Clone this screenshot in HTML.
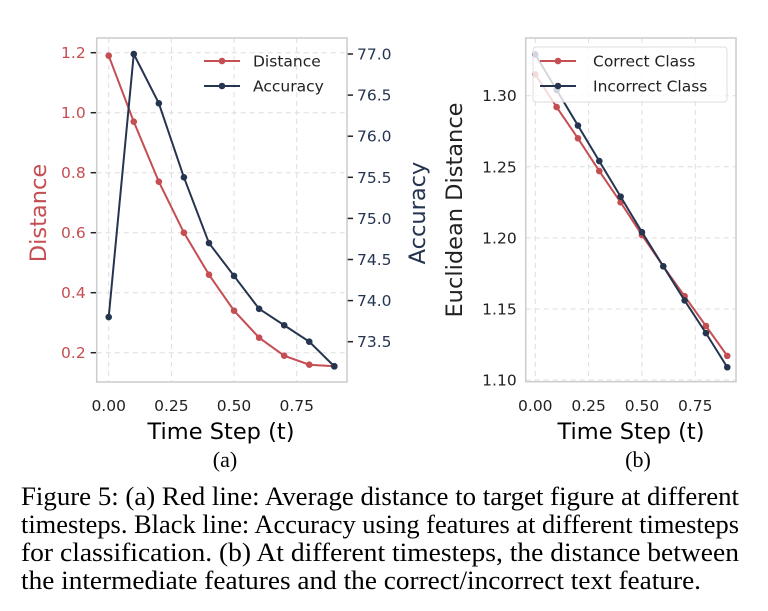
<!DOCTYPE html>
<html><head><meta charset="utf-8"><style>
html,body{margin:0;padding:0;background:#fff;}
svg{display:block;}
.tk{font-family:"DejaVu Sans","Liberation Sans",sans-serif;font-size:15.5px;}
.lg{font-family:"DejaVu Sans","Liberation Sans",sans-serif;font-size:15.5px;}
.lb{font-family:"DejaVu Sans","Liberation Sans",sans-serif;font-size:22.5px;}
.cap{font-family:"Liberation Serif",serif;font-size:26px;fill:#000;}
</style></head><body>
<svg id="fig" width="768" height="611" viewBox="0 0 768 611" xmlns="http://www.w3.org/2000/svg">
<g id="pa"></g>
<g id="pb"></g>
<text class="lb" x="221" y="439" text-anchor="middle">Time Step (t)</text>
<text class="lb" x="631" y="439" text-anchor="middle">Time Step (t)</text>
<text class="cap" x="225" y="467" text-anchor="middle" style="font-size:22px">(a)</text>
<text class="cap" x="638" y="467" text-anchor="middle" style="font-size:22px">(b)</text>
<g>
<text class="cap" x="21" y="505" textLength="718" lengthAdjust="spacingAndGlyphs">Figure 5: (a) Red line: Average distance to target figure at different</text>
<text class="cap" x="21" y="533" textLength="718" lengthAdjust="spacingAndGlyphs">timesteps. Black line: Accuracy using features at different timesteps</text>
<text class="cap" x="21" y="561" textLength="718" lengthAdjust="spacingAndGlyphs">for classification. (b) At different timesteps, the distance between</text>
<text class="cap" x="21" y="589" textLength="680" lengthAdjust="spacingAndGlyphs">the intermediate features and the correct/incorrect text feature.</text>
</g>
</svg>
<script>
const steps = [0,0.1,0.2,0.3,0.4,0.5,0.6,0.7,0.8,0.9];
const distance = [1.19,0.97,0.77,0.60,0.46,0.34,0.25,0.19,0.16,0.155];
const accuracy = [73.8,77.0,76.4,75.5,74.7,74.3,73.9,73.7,73.5,73.2];
const correctClass = [1.315,1.292,1.270,1.247,1.225,1.202,1.180,1.159,1.138,1.117];
const incorrectClass = [1.329,1.304,1.279,1.254,1.229,1.204,1.180,1.156,1.133,1.109];
const xTicks = [0,0.25,0.5,0.75];
const xTickLabels = ["0.00","0.25","0.50","0.75"];
const distTicks = [0.2,0.4,0.6,0.8,1.0,1.2];
const distTickLabels = ["0.2","0.4","0.6","0.8","1.0","1.2"];
const accTicks = [73.5,74.0,74.5,75.0,75.5,76.0,76.5,77.0];
const accTickLabels = ["73.5","74.0","74.5","75.0","75.5","76.0","76.5","77.0"];
const eucTicks = [1.10,1.15,1.20,1.25,1.30];
const eucTickLabels = ["1.10","1.15","1.20","1.25","1.30"];

const NS="http://www.w3.org/2000/svg";
const RED="#c44e52", NAVY="#253550";
function mk(parent,tag,attrs){const e=document.createElementNS(NS,tag);for(const k in attrs)e.setAttribute(k,attrs[k]);parent.appendChild(e);return e;}

const xA=v=>108.7+v*250.7;
const yD=v=>352.7-(v-0.2)*300;
const yAcc=v=>54+(77-v)*82.2;
const xB=v=>535.3+v*213.3;
const yE=v=>95.7+(1.30-v)*1421.7;

function frame(g,x0,y0,x1,y1){
  const r=mk(g,'rect',{x:x0,y:y0,width:x1-x0,height:y1-y0,fill:'none',stroke:'#cccccc','stroke-width':1.5});
  
  
}
function series(g,xs,ys,xf,yf,color,name){
  const pts=xs.map((x,i)=>xf(x)+','+yf(ys[i])).join(' ');
  const l=mk(g,'polyline',{points:pts,fill:'none',stroke:color,'stroke-width':2});
  
  
  xs.forEach((x,i)=>{
    const c=mk(g,'circle',{cx:xf(x),cy:yf(ys[i]),r:3.3,fill:color});
    
    
  });
}

// ---- Panel A ----
const pa=document.getElementById('pa');
const ax0=96.7,ax1=347,ay0=38,ay1=382;
xTicks.forEach((t,i)=>{
  mk(pa,'line',{x1:xA(t),x2:xA(t),y1:ay0,y2:ay1,stroke:'#dddddd','stroke-dasharray':'5,4'});
  const tx=mk(pa,'text',{x:xA(t),y:411,'text-anchor':'middle',class:'tk',fill:'#222'});tx.textContent=xTickLabels[i];
  
  
});
distTicks.forEach((t,i)=>{
  mk(pa,'line',{x1:ax0,x2:ax1,y1:yD(t),y2:yD(t),stroke:'#dddddd','stroke-dasharray':'5,4'});
  mk(pa,'line',{x1:ax0-6,x2:ax0,y1:yD(t),y2:yD(t),stroke:'#222','stroke-width':1.5});
  const tx=mk(pa,'text',{x:ax0-11,y:yD(t)+5.5,'text-anchor':'end',class:'tk',fill:RED});tx.textContent=distTickLabels[i];
  
  
});
accTicks.forEach((t,i)=>{
  mk(pa,'line',{x1:ax1,x2:ax1+6,y1:yAcc(t),y2:yAcc(t),stroke:'#222','stroke-width':1.5});
  const tx=mk(pa,'text',{x:ax1+10,y:yAcc(t)+5.5,'text-anchor':'start',class:'tk',fill:NAVY});tx.textContent=accTickLabels[i];
  
  
});
frame(pa,ax0,ay0,ax1,ay1);
series(pa,steps,distance,xA,yD,RED,'distance');
series(pa,steps,accuracy,xA,yAcc,NAVY,'accuracy');
let t=mk(pa,'text',{x:0,y:0,class:'lb',fill:RED,'text-anchor':'middle',transform:'translate(46,213) rotate(-90)'});t.textContent='Distance';


t=mk(pa,'text',{x:0,y:0,class:'lb',fill:NAVY,'text-anchor':'middle',transform:'translate(425,213) rotate(-90)'});t.textContent='Accuracy';


const lgA=mk(pa,'g',{});


[[RED,'Distance',61],[NAVY,'Accuracy',86]].forEach(([c,n,y])=>{
  mk(lgA,'line',{x1:204,x2:240,y1:y,y2:y,stroke:c,'stroke-width':2});
  mk(lgA,'circle',{cx:222,cy:y,r:3.3,fill:c});
  const tx=mk(lgA,'text',{x:253,y:y+5.5,class:'lg',fill:'#222'});tx.textContent=n;
  
  
});

// ---- Panel B ----
const pb=document.getElementById('pb');
const bx0=525.7,bx1=736,by0=38,by1=381.7;
xTicks.forEach((tk,i)=>{
  mk(pb,'line',{x1:xB(tk),x2:xB(tk),y1:by0,y2:by1,stroke:'#dddddd','stroke-dasharray':'5,4'});
  const tx=mk(pb,'text',{x:xB(tk),y:411,'text-anchor':'middle',class:'tk',fill:'#222'});tx.textContent=xTickLabels[i];
  
  
});
eucTicks.forEach((tk,i)=>{
  mk(pb,'line',{x1:bx0,x2:bx1,y1:yE(tk),y2:yE(tk),stroke:'#dddddd','stroke-dasharray':'5,4'});
  const tx=mk(pb,'text',{x:bx0-9,y:yE(tk)+5.5,'text-anchor':'end',class:'tk',fill:'#222'});tx.textContent=eucTickLabels[i];
  
  
});
frame(pb,bx0,by0,bx1,by1);
series(pb,steps,correctClass,xB,yE,RED,'correct-class');
series(pb,steps,incorrectClass,xB,yE,NAVY,'incorrect-class');
t=mk(pb,'text',{x:0,y:0,class:'lb',fill:'#222','text-anchor':'middle',transform:'translate(462,210) rotate(-90)'});t.textContent='Euclidean Distance';


const lgB=mk(pb,'g',{});


mk(lgB,'rect',{x:533,y:47,width:194,height:55,rx:3,fill:'#fff','fill-opacity':0.8,stroke:'#dddddd'});
[[RED,'Correct Class',61],[NAVY,'Incorrect Class',86]].forEach(([c,n,y])=>{
  mk(lgB,'line',{x1:540,x2:576,y1:y,y2:y,stroke:c,'stroke-width':2});
  mk(lgB,'circle',{cx:558,cy:y,r:3.3,fill:c});
  const tx=mk(lgB,'text',{x:593,y:y+5.5,class:'lg',fill:'#222'});tx.textContent=n;
  
  
});
</script>
</body></html>
